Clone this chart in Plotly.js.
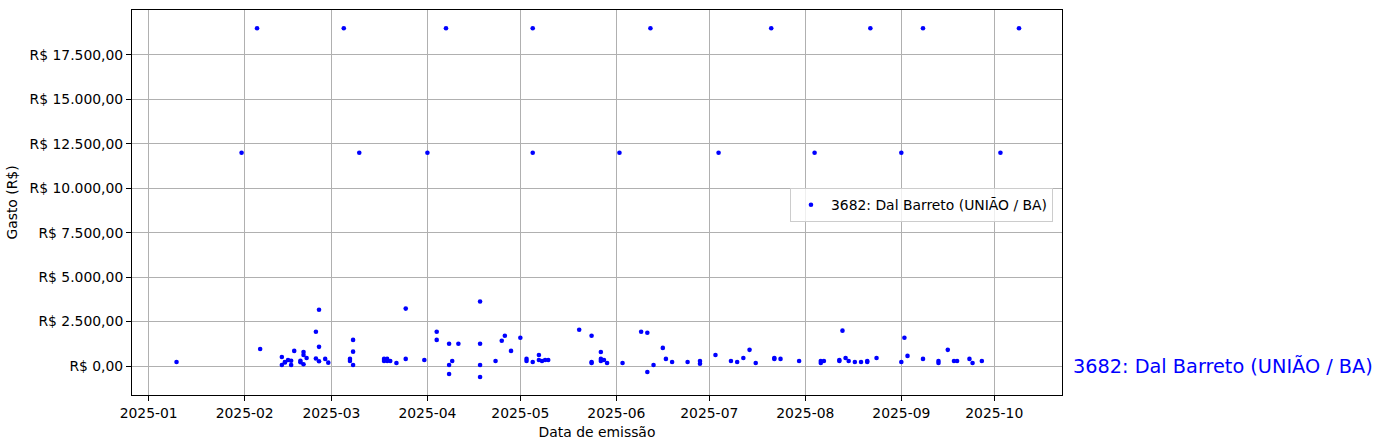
<!DOCTYPE html>
<html>
<head>
<meta charset="utf-8">
<script src="https://cdn.plot.ly/plotly-3.0.1.min.js"></script>
<style>html,body{margin:0;padding:0;background:#fff;}#chart{width:1383px;height:448px;}</style>
</head>
<body>
<div id="chart"></div>
<script>
const serie = "3682: Dal Barreto (UNIÃO / BA)";
const datas = [
  "2025-01-10","2025-01-31","2025-02-05","2025-02-06",
  "2025-02-13","2025-02-13","2025-02-14","2025-02-14","2025-02-15","2025-02-16","2025-02-16","2025-02-17",
  "2025-02-19","2025-02-19","2025-02-20","2025-02-20","2025-02-21","2025-02-20","2025-02-24","2025-02-24",
  "2025-02-25","2025-02-25","2025-02-25","2025-02-27","2025-02-28",
  "2025-03-05","2025-03-07","2025-03-07","2025-03-08","2025-03-08","2025-03-08","2025-03-10",
  "2025-03-18","2025-03-18","2025-03-19","2025-03-19","2025-03-20","2025-03-22","2025-03-25","2025-03-25","2025-03-31",
  "2025-04-01","2025-04-04","2025-04-04","2025-04-07","2025-04-08","2025-04-08","2025-04-08","2025-04-09","2025-04-11",
  "2025-04-18","2025-04-18","2025-04-18","2025-04-18","2025-04-23","2025-04-25","2025-04-26","2025-04-28","2025-05-01",
  "2025-05-03","2025-05-03","2025-05-05","2025-05-05","2025-05-05","2025-05-07","2025-05-07","2025-05-08","2025-05-09","2025-05-10",
  "2025-05-20","2025-05-24","2025-05-24","2025-05-24","2025-05-27","2025-05-27","2025-05-27","2025-05-28","2025-05-29",
  "2025-06-02","2025-06-03","2025-06-09","2025-06-11","2025-06-11","2025-06-12","2025-06-13","2025-06-16","2025-06-17",
  "2025-06-19","2025-06-24","2025-06-28","2025-06-28",
  "2025-07-03","2025-07-04","2025-07-08","2025-07-10","2025-07-12","2025-07-14","2025-07-16","2025-07-21","2025-07-22","2025-07-22",
  "2025-07-24","2025-07-30",
  "2025-08-04","2025-08-06","2025-08-06","2025-08-07","2025-08-12","2025-08-12","2025-08-13","2025-08-14","2025-08-15",
  "2025-08-17","2025-08-19","2025-08-21","2025-08-21","2025-08-22","2025-08-24",
  "2025-09-01","2025-09-01","2025-09-02","2025-09-03","2025-09-08","2025-09-08","2025-09-13","2025-09-13","2025-09-16",
  "2025-09-18","2025-09-19","2025-09-23","2025-09-24","2025-09-27",
  "2025-10-03","2025-10-09"
];
const gastos = [
  230,12000,19000,960,
  60,510,230,200,340,300,60,850,
  300,210,790,620,450,100,420,1930,
  270,3170,1080,400,190,
  19000,280,400,1470,810,60,12000,
  400,280,400,280,280,170,3230,400,340,
  12000,1930,1470,19000,1250,60,-450,280,1250,
  3630,1250,60,-620,280,1420,1700,850,1590,
  400,280,230,19000,12000,620,340,280,340,340,
  2040,1700,230,170,790,400,280,340,170,
  12000,170,1930,1870,-340,19000,60,1020,400,
  230,230,130,280,
  620,12000,280,230,450,910,170,19000,450,400,
  400,280,
  12000,170,280,280,280,340,1990,450,280,
  230,230,230,280,19000,450,
  230,12000,1590,570,400,19000,280,170,910,
  280,280,400,170,280,
  12000,19000
];
const yTicks = [0,2500,5000,7500,10000,12500,15000,17500];
const yTickText = ["R$ 0,00","R$ 2.500,00","R$ 5.000,00","R$ 7.500,00","R$ 10.000,00","R$ 12.500,00","R$ 15.000,00","R$ 17.500,00"];

const font = "DejaVu Sans, sans-serif";
const fs = 13.9;
const trace = {
  x: datas, y: gastos, type: "scatter", mode: "markers", name: serie,
  marker: {color: "#0000ff", size: 4.6, line: {width: 0}},
  hoverinfo: "skip"
};
const layout = {
  width: 1383, height: 448,
  margin: {l: 132, r: 321, t: 10, b: 53, pad: 0},
  paper_bgcolor: "#ffffff", plot_bgcolor: "#ffffff",
  font: {family: font, size: fs, color: "#000000"},
  showlegend: true,
  legend: {x: 0.7075, y: 0.537, xanchor: "left", yanchor: "top",
    bgcolor: "rgba(255,255,255,0.8)", bordercolor: "#cccccc", borderwidth: 1,
    font: {family: font, size: fs, color: "#000000"}, itemwidth: 30},
  xaxis: {
    type: "date", range: ["2024-12-26 15:00", "2025-10-22 21:00"],
    tick0: "2025-01-01", dtick: "M1", tickformat: "%Y-%m",
    showgrid: true, gridcolor: "#b0b0b0", gridwidth: 1,
    showline: true, linecolor: "#000000", linewidth: 1, mirror: true,
    ticks: "outside", ticklen: 5, tickcolor: "#000000", tickwidth: 1,
    zeroline: false,
    tickfont: {family: font, size: fs, color: "#000000"},
    title: {text: "Data de emissão", font: {family: font, size: fs, color: "#000000"}, standoff: 7}
  },
  yaxis: {
    range: [-1630, 20030],
    tickvals: yTicks, ticktext: yTickText,
    showgrid: true, gridcolor: "#b0b0b0", gridwidth: 1,
    showline: true, linecolor: "#000000", linewidth: 1, mirror: true,
    ticks: "outside", ticklen: 5, tickcolor: "#000000", tickwidth: 1,
    zeroline: false,
    tickfont: {family: font, size: fs, color: "#000000"},
    title: {text: "Gasto (R$)", font: {family: font, size: fs, color: "#000000"}, standoff: 8}
  },
  annotations: [{
    text: serie, xref: "paper", x: 1.0097, xanchor: "left",
    yref: "y", y: 0, yanchor: "middle", showarrow: false,
    font: {family: font, size: 19.3, color: "#0000ff"}
  }]
};
Plotly.newPlot("chart", [trace], layout, {displayModeBar: false, staticPlot: true});
</script>
</body>
</html>
